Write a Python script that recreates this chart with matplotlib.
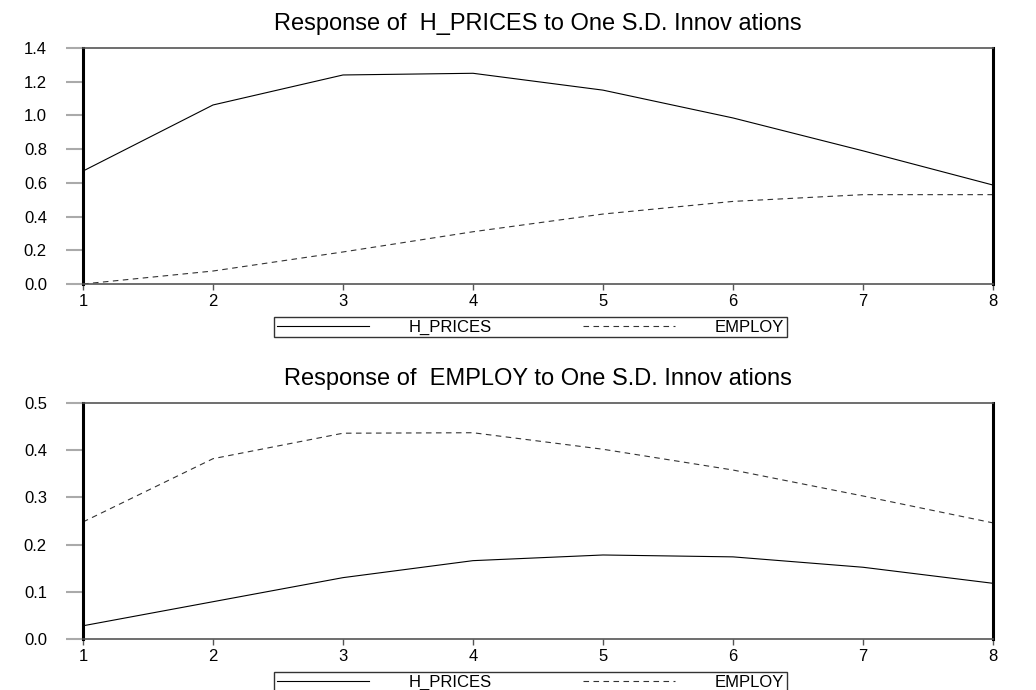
import numpy as np
import matplotlib
matplotlib.use("Agg")
import matplotlib.pyplot as plt

plt.rcParams['font.family'] = ['Liberation Sans', 'DejaVu Sans']

# impulse response periods
periods = [1, 2, 3, 4, 5, 6, 7, 8]

# response of H_PRICES
hp_to_hp = [0.67, 1.062, 1.24, 1.25, 1.15, 0.985, 0.79, 0.587]
hp_to_emp = [0.0, 0.077, 0.19, 0.31, 0.415, 0.49, 0.53, 0.53]

# response of EMPLOY
emp_to_hp = [0.028, 0.079, 0.13, 0.166, 0.178, 0.174, 0.152, 0.118]
emp_to_emp = [0.248, 0.382, 0.436, 0.437, 0.402, 0.358, 0.303, 0.246]

titles = ["Response of  H_PRICES to One S.D. Innov ations",
          "Response of  EMPLOY to One S.D. Innov ations"]
yticks_top = [0.0, 0.2, 0.4, 0.6, 0.8, 1.0, 1.2, 1.4]
yticks_bot = [0.0, 0.1, 0.2, 0.3, 0.4, 0.5]

fig = plt.figure(figsize=(10.36, 6.9), dpi=100)
ax1 = fig.add_axes([83/1036, 1-284/690, (993-83)/1036, (284-48)/690])
ax2 = fig.add_axes([83/1036, 1-639/690, (993-83)/1036, (639-403)/690])

panels = [(ax1, hp_to_hp, hp_to_emp, yticks_top, titles[0], 1.4),
          (ax2, emp_to_hp, emp_to_emp, yticks_bot, titles[1], 0.5)]

for ax, s1, s2, yt, ttl, ymax in panels:
    ax.plot(periods, s1, color='black', lw=0.8, label='H_PRICES')
    ax.plot(periods, s2, color='#333333', lw=0.8, ls=(0, (5, 4)), label='EMPLOY')
    ax.set_xlim(1, 8)
    ax.set_ylim(0, ymax)
    ax.set_xticks(periods)
    ax.set_yticks(yt)
    ax.set_yticklabels(["%.1f" % v for v in yt])
    ax.tick_params(axis='y', direction='out', length=12, width=1.5,
                   color='#aaaaaa', labelsize=12, pad=14)
    ax.tick_params(axis='x', direction='out', length=4, width=1,
                   color='#555555', labelsize=12, pad=3)
    for side in ['left', 'right']:
        ax.spines[side].set_linewidth(2.2)
        ax.spines[side].set_color('black')
    for side in ['top', 'bottom']:
        ax.spines[side].set_linewidth(1.2)
        ax.spines[side].set_color('#555555')
    ax.set_title(ttl, fontsize=17, pad=13)
    leg = ax.legend(loc='upper center', bbox_to_anchor=(0.492, -0.14), ncol=2,
                    frameon=True, fancybox=False, edgecolor='black',
                    fontsize=12, handlelength=5.5, columnspacing=5.5,
                    borderpad=0.15, handletextpad=2.4, borderaxespad=0.0)
    leg.get_frame().set_linewidth(1.0)

fig.savefig("out.png", dpi=100, facecolor='white')
